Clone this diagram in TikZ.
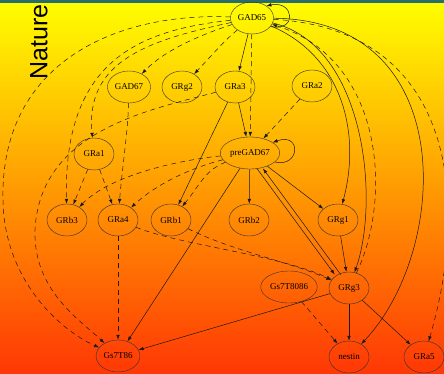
\documentclass[tikz,border=0pt]{standalone}
\usepackage{fontspec}
\setmainfont{Liberation Serif}
\newfontfamily\natfont{Liberation Sans}
\usetikzlibrary{arrows.meta,shapes.geometric}
\definecolor{bandcol}{RGB}{40,110,110}
\definecolor{bgtop}{RGB}{255,255,0}
\definecolor{bgmid}{RGB}{255,165,0}
\definecolor{bgbot}{RGB}{255,55,5}
\begin{document}
\begin{tikzpicture}[x=1pt,y=-1pt,
  nd/.style={ellipse, draw=black!80, line width=0.4pt, minimum width=40pt,
    minimum height=32pt, inner sep=1pt, font=\fontsize{9}{10}\selectfont},
  sl/.style={draw=black!90, line width=0.5pt, -{Latex[length=5pt,width=3.5pt]}},
  dl/.style={sl, dash pattern=on 5pt off 4pt}]
\useasboundingbox (0,0) rectangle (444,374);
\shade[top color=bgtop, middle color=bgmid, bottom color=bgbot] (0,0) rectangle (444,374);
\fill[bandcol] (0,0) rectangle (444,3);
\node[rotate=90, font=\natfont\fontsize{25}{25}\selectfont, inner sep=0pt] (nat) at (39,42) {Nature};

\node[nd] (GAD65) at (252,18) {GAD65};
\node[nd] (GAD67) at (129,87) {GAD67};
\node[nd] (GRg2) at (182,87) {GRg2};
\node[nd] (GRa3) at (235,87) {GRa3};
\node[nd] (GRa2) at (312,86) {GRa2};
\node[nd] (GRa1) at (94,154) {GRa1};
\node[nd, minimum width=58pt] (preGAD67) at (250,153) {preGAD67};
\node[nd] (GRb3) at (67,220) {GRb3};
\node[nd] (GRa4) at (118,220) {GRa4};
\node[nd] (GRb1) at (171,220) {GRb1};
\node[nd] (GRb2) at (249,220) {GRb2};
\node[nd] (GRg1) at (338,220) {GRg1};
\node[nd, minimum width=54pt] (Gs7T8086) at (289,287) {Gs7T8086};
\node[nd] (GRg3) at (349,288) {GRg3};
\node[nd] (Gs7T86) at (118,356) {Gs7T86};
\node[nd] (nestin) at (349,357) {nestin};
\node[nd] (GRa5) at (424,357) {GRa5};

% solid edges
\draw[sl] (GAD65.-25) .. controls (298,32) and (294,0) .. (GAD65.40);
\draw[sl] (GAD65) -- (GRa3);
\draw[sl] (GAD65) .. controls (340,55) and (362,130) .. (GRg1);
\draw[sl] (GAD65) .. controls (365,45) and (380,200) .. (GRg3);
\draw[sl] (GAD65) .. controls (460,20) and (450,250) .. (nestin);
\draw[sl] (preGAD67.-20) .. controls (300,168) and (302,132) .. (preGAD67.25);
\draw[sl] (GRa3) -- (preGAD67);
\draw[sl] (GRa3) -- (GRb1);
\draw[sl] (preGAD67) -- (GRb2);
\draw[sl] (preGAD67) -- (GRg1);
\draw[sl] (preGAD67) -- (Gs7T86);
\draw[sl] ([xshift=-2pt]preGAD67.-60) -- ([xshift=-3pt]GRg3.130);
\draw[sl] ([xshift=3pt]GRg3.130) -- ([xshift=4pt]preGAD67.-60);
\draw[sl] (GRg1) -- (GRg3);
\draw[sl] (GRg3) -- (nestin);
\draw[sl] (GRg3) -- (GRa5);
\draw[sl] (GRg3) -- (Gs7T86);

% dashed edges
\draw[dl] (GAD65) -- (preGAD67);
\draw[dl] (GRa2) -- (preGAD67);
\draw[dl] (GAD65) .. controls (200,35) and (165,50) .. (GAD67);
\draw[dl] (GAD65) .. controls (225,40) and (212,55) .. (GRg2);
\draw[dl] (GAD65) .. controls (120,12) and (0,60) .. (3,200) .. controls (4,280) and (60,330) .. (Gs7T86);
\draw[dl] (GAD65) .. controls (140,30) and (63,60) .. (GRb3);
\draw[dl] (GAD65) .. controls (150,40) and (85,60) .. (GRa1);
\draw[dl] (GRg3) .. controls (392,200) and (385,60) .. (GAD65);
\draw[dl] (GAD65) .. controls (455,30) and (470,200) .. (GRa5);
\draw[dl] (GAD67) .. controls (128,130) and (122,170) .. (GRa4);
\draw[dl] (GRa3) .. controls (150,110) and (40,130) .. (35,230) .. controls (33,290) and (80,320) .. (Gs7T86);
\draw[dl] (GRa1) -- (GRb3);
\draw[dl] (GRa1) -- (GRa4);
\draw[dl] (preGAD67) .. controls (180,160) and (110,175) .. (GRb3);
\draw[dl] (preGAD67) .. controls (190,168) and (155,185) .. (GRa4);
\draw[dl] (preGAD67) .. controls (205,170) and (200,185) .. (GRb1);
\draw[dl] (GRa4) -- (Gs7T86);
\draw[dl] (GRa4) .. controls (180,245) and (280,255) .. (GRg3);
\draw[dl] (GRb1) .. controls (230,250) and (290,262) .. (GRg3);
\draw[dl] (Gs7T8086) -- (nestin);
\end{tikzpicture}
\end{document}
